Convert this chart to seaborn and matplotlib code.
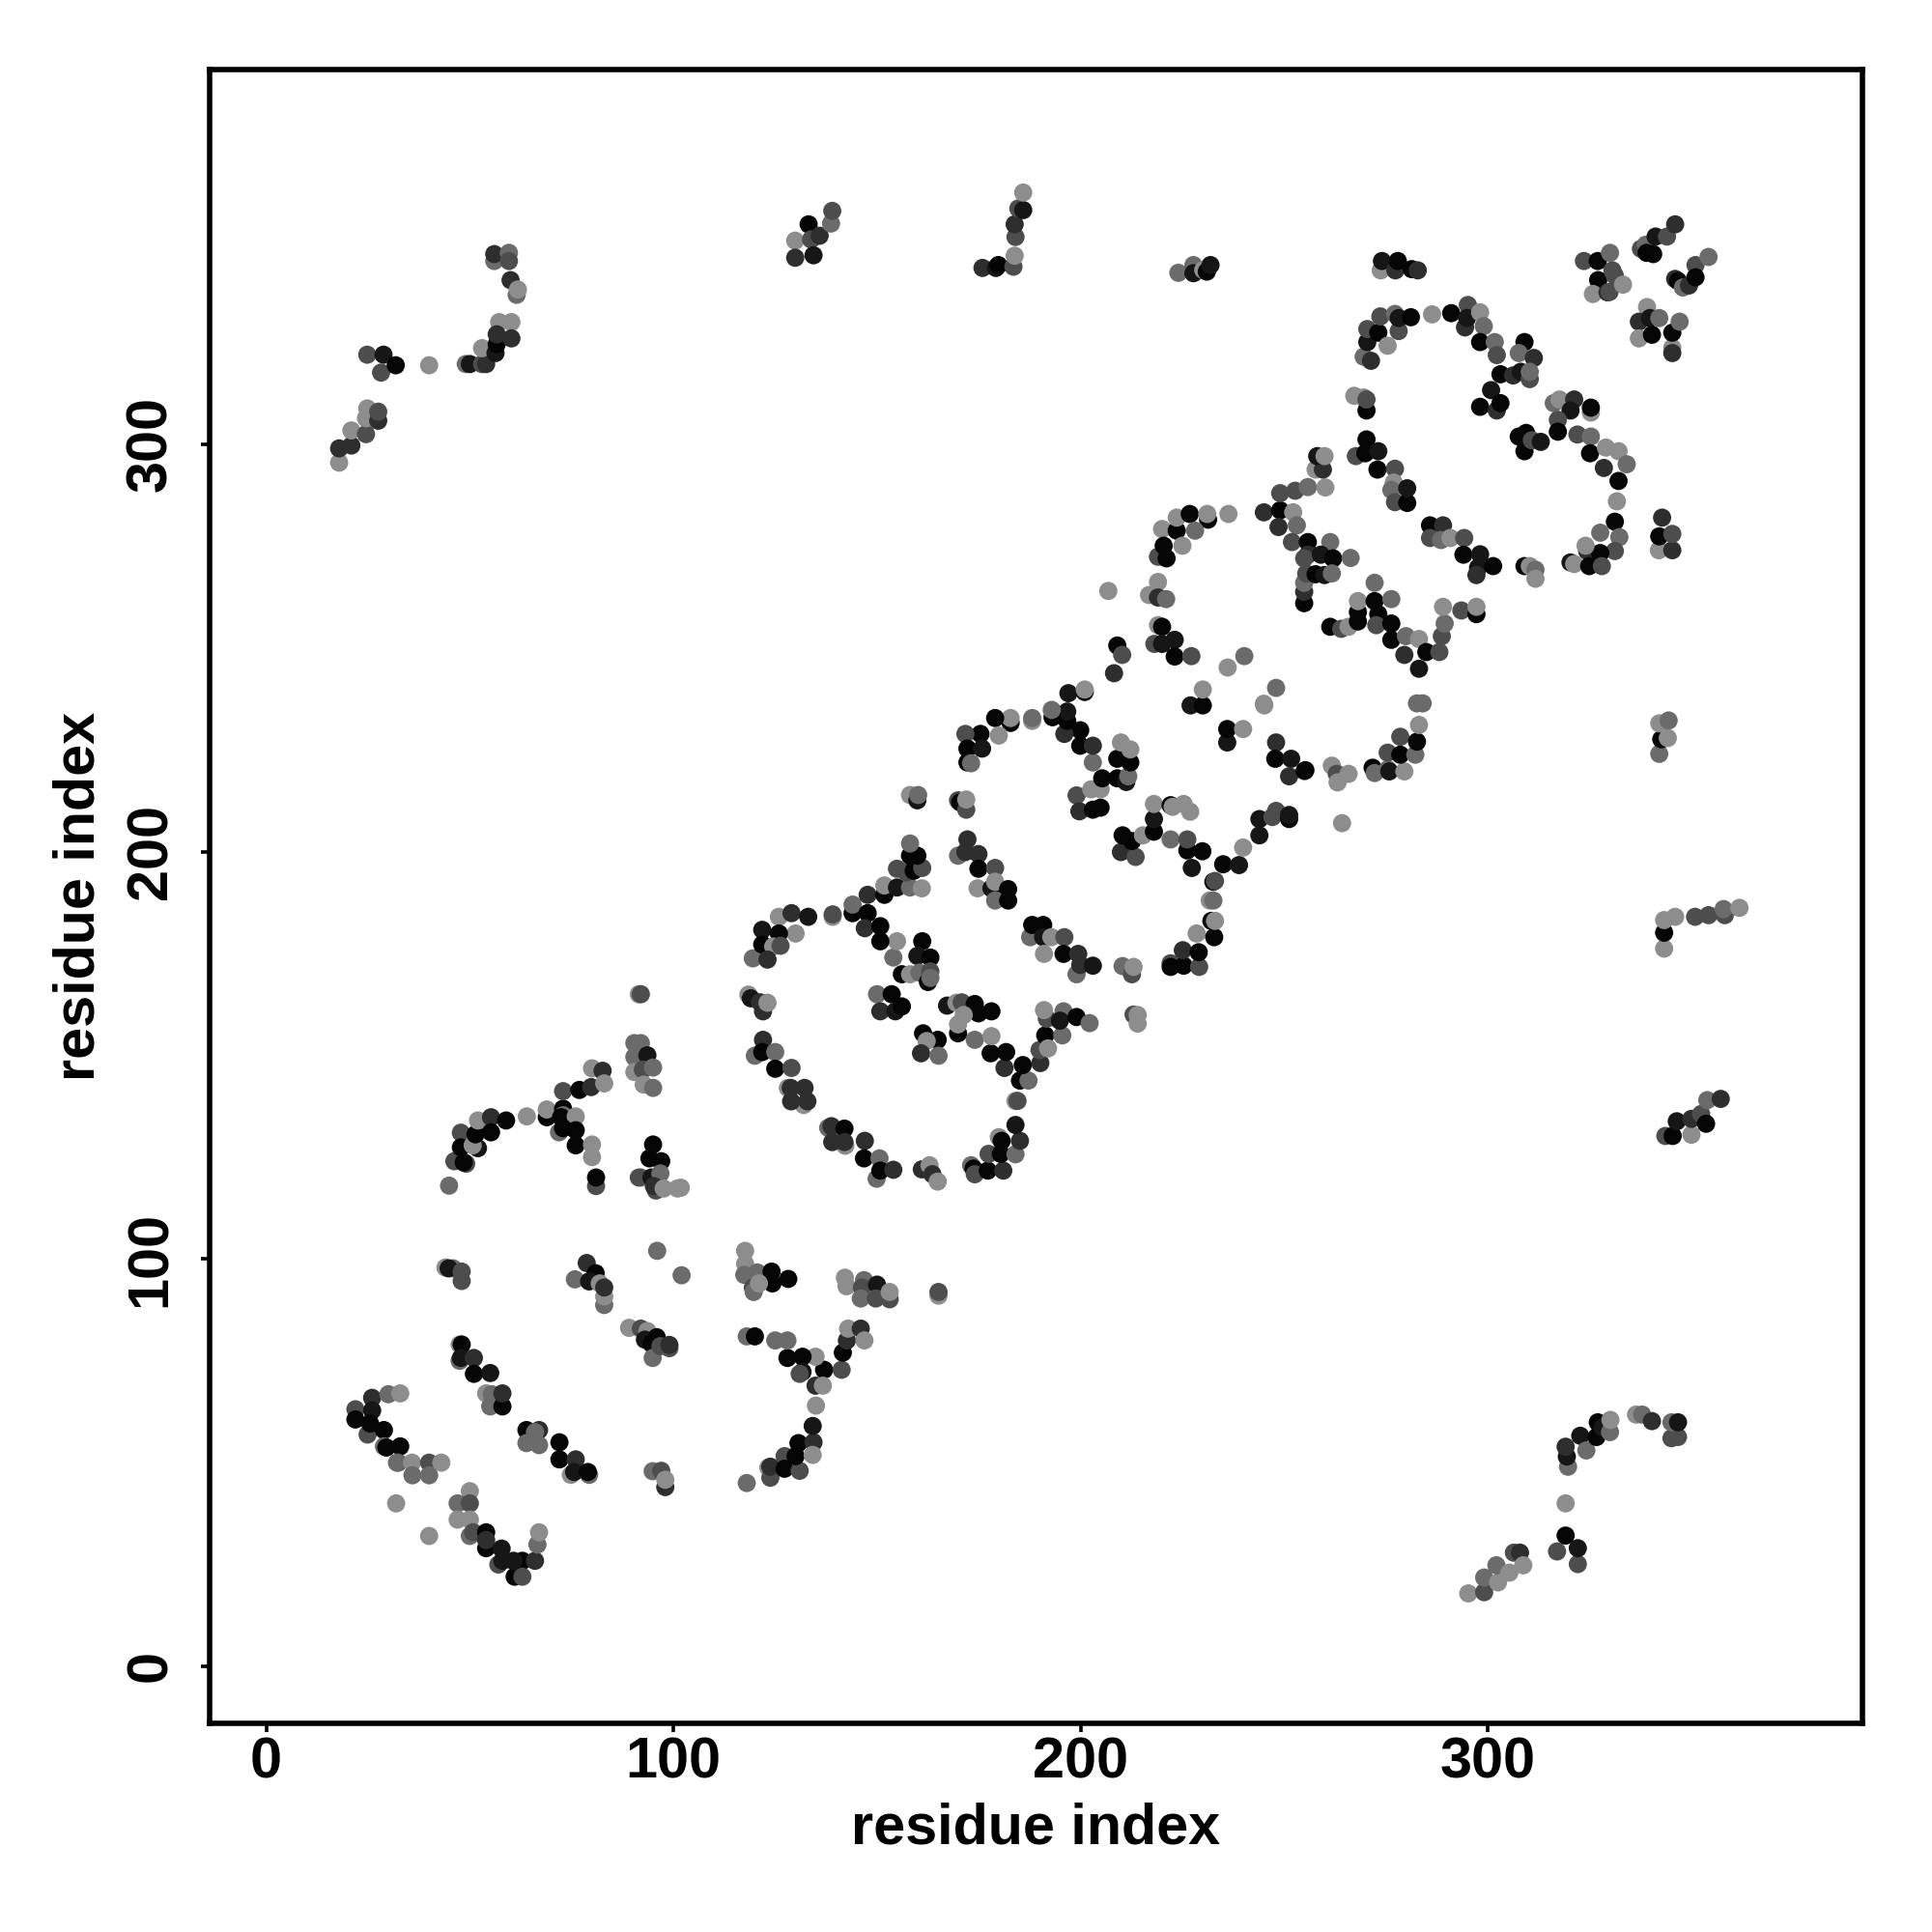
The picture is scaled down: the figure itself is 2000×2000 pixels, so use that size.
import matplotlib
matplotlib.use("Agg")
import matplotlib.pyplot as plt
import pandas as pd
import seaborn as sns

# contacts, as (residue, residue, shade), shade 0 = darkest
lower_left = [(21.9,63.1,3),(21.9,60.6,0),(26,65.9,2),(26,62.8,1),(30,66.8,4),(32.9,67,5),(24.9,56.9,3),(25.5,59.6,0),
    (28.9,58,0),(28.9,54,4),(29.5,53.7,0),(32.9,54,0),(32.4,50,3),(32.1,50,4),(35.8,50,5),(35.9,46.9,4),(40,50,3),
    (40,46.9,4),(43,50,5),(31.9,40,5),(40,32,5),(50,43,5),(47,40,4),(50,40,3),(47,36,5),(50,36,5),(50,32,4),(50.8,32.9,3),
    (54,32.9,0),(54,29,0),(54,31,2),(57,25,3),(57.8,28.9,1),(58,25.9,1),(61,22,0),(62.9,25.9,0),(66,25.9,2),(62.9,22,3),
    (60.7,25.9,1),(66.6,29.9,4),(67,32.9,5)]
lower_diag = [(47.5,79,5),(48,79,0),(47.5,75,4),(47.8,75.7,1),(51,75.7,2),(51,71.8,0),(55,72,1),(54,67,5),(55.4,66.8,4),
    (55,63.8,4),(58,63.8,0),(58,67,2),(63.9,58,0),(67,58,2),(63.9,54.8,4),(67,54.3,4),(66,57.5,4),(72,55,0),(72,50.8,0),
    (76,50.8,2),(74.8,47,5),(75.6,47.7,1),(79.3,47,4),(79,47.7,0),(94.9,47.9,4),(97,48,3),(98,44,2),(98,45.8,5),(118,45,4)]
lower_y = [(123.3,48.8,5),(123.8,46.3,3),(123.8,49,2),(127.3,51.6,3),(127.3,48.5,0),(131,48,3),(130.7,54.8,0),(130,51.6,0),
    (134.4,55,2),(134.2,51.9,5),(134.2,59,1),(135,64,5),(137,72.8,0),(134.9,76,5),(134.9,68.9,2),(136.7,68.9,5),(131.7,76,0),
    (128,75.7,0),(131.7,72.3,1),(131,71.8,3),(125,80,4),(128,80,4),(141.3,72.8,3),(141.6,77,0),(142.6,80,2),(142.9,82.9,5),
    (146,82.9,2),(146.9,80,5),(118,81,4),(120,81,0)]
band_95 = [(117.6,102,5),(117.6,98.8,5),(117.4,96.1,4),(119.5,93,3),(119.7,91.9,4),(120.6,96.7,4),(124.1,96.9,0),(124.3,94,0),
    (128.2,95.1,0),(121,94,5),(142.1,95.4,5),(142.5,93.3,5),(146.8,94.8,4),(146.3,93,3),(146,90.3,4),(150,93.7,1),(149.7,90.3,3),
    (153.1,90.1,3),(153.1,91.9,5),(165.1,91,5),(165.1,91.9,3),(96,102,4),(102,96,4),(44,97.9,5),(45.9,97.7,4),(44.8,97.7,1),
    (48,94.6,3),(48,96.9,3),(75.8,95,4),(78.7,99,2),(80.9,96.5,0),(79.3,94.5,1),(83,88.7,4),(83,90.8,5),(81.9,94,5),(83,93,2),
    (89.1,83.1,5),(92,82.9,3),(93.6,82.3,5),(93,80.2,1),(95.9,80.8,0),(94.6,79.2,0),(94.9,75.7,4),(99,78.1,3),(96.8,78.6,3),(99,78.9,2)]
arc_130 = [(44.9,118,4),(46.2,124,3),(49.1,123.4,3),(48.5,123.7,0),(47.8,131,3),(47.8,127.4,0),(52,127.2,1),(50.7,127.9,5),
    (51.4,130.6,0),(52,134,5),(55.2,134.8,2),(55.2,131.1,0),(58.9,134,0),(64,135,5),(68.9,134.8,0),(68.9,136.7,5),(72.9,136.9,0),
    (72.9,135.3,4),(72.4,134.8,0),(76,135,5),(71.9,131.1,4),(76,131.6,0),(72.9,132.1,0),(76,127.9,0),(80,128.1,5),(80,125,5),
    (81,117.9,3),(81,120,0),(72.9,141.2,3),(76.9,141.5,0),(79.8,142.2,2),(80,146.8,5),(82.6,146.2,2),(83,143.1,5)]
peak_150 = [(90.4,153,4),(92,153,4),(90.4,149.6,4),(90.4,145.9,5),(93.6,150,1),(92.5,146.5,3),(95,147,4),(92.7,142.8,5),(95,142,4),
    (91.5,165,5),(92,165,3),(95,128.1,0),(94.1,124.7,0),(97,124,0),(92,120,4),(91.5,120,3),(94.6,120,1),(96.8,121,4),(95.7,116.8,3),
    (95.2,117.9,2),(97.6,117.3,5),(101,117.3,5),(101.8,117.5,5)]
ring_one_low = [(118.4,164.9,5),(119,164,1),(121.3,163,2),(122,160.8,2),(123.1,162.9,5),(122,153.8,2),(120,149.9,4),(121.8,150.8,0),
    (125,150.8,4),(125,146.7,0),(129,146.9,3),(128.1,142,5),(128.8,142,2),(132,137.8,5),(132.2,142,2),(128.9,138.7,2),(132.9,138.7,2),
    (138,132.2,4),(138.8,132.6,2),(142.2,127.8,5),(142,132,0),(139,128.7,2),(142,128.7,2),(147,129,2),(146.8,124.7,0),(149.9,119.7,4),
    (150.6,124.7,4),(150.8,121.7,0),(154,121.9,2),(161,122,2),(162.9,123,5),(163.6,120.8,2),(164.9,119,5),(173.1,123,4),(173.7,122.2,0),
    (174,120.8,3),(177.2,121.7,0),(181,121.7,2),(177.4,125.8,3),(180.4,125.8,0),(184,125.7,4),(179.9,129.9,5),(180.6,129,0),(185.1,129,2),
    (184,132.9,1),(184,138.8,5),(184.5,138.8,3)]
ring_one_right = [(185.1,143.8,0),(187.2,143.8,4),(181.3,146.9,2),(185.8,147.6,0),(190.1,148.1,2),(181.7,150.8,0),(177.9,150.5,0),
    (174,153.8,4),(178.1,154.7,5),(189.9,151.3,3),(191.3,154.9,0),(192,151.7,5),(195.5,154.9,4),(191.7,159,3),(191,161.1,5),(195.8,160.8,4),
    (194.9,158.5,1),(199,159.4,0),(202.2,157.9,4),(213,160,3),(214,159.9,5),(214,157.8,5),(150,165,4),(153.6,165,0),(150.8,160.8,2),
    (154.5,160.8,1),(156.1,162,0),(167.2,162.2,1),(169.5,162.9,5),(170.8,163,3),(174,162.6,0),(178.1,160.8,0),(174.9,160.3,0),(171.3,159.9,5),
    (169.9,155.4,0),(169.9,157.6,5),(161.3,155.4,0),(164.9,153.8,0),(162.2,153.5,5),(160.8,150.5,2),(165.1,149.9,4)]
ring_one_top = [(161.1,178,0),(159.9,174.4,1),(163.1,174,0),(154,174,4),(154.9,178,5),(156.1,169.9,0),(158.1,169.9,5),(160.4,170.3,4),
    (163.1,170.6,3),(162.5,168,0),(163.1,169,4),(119.5,173.8,4),(121.8,180.8,1),(125.9,184,5),(129,184.9,2),(133.1,184,1),(130,179.9,5),
    (121.8,177.2,0),(125.9,179.9,0),(124.5,176.7,5),(126.3,176.9,3),(123.1,173.5,2),(139.1,184,5),(139.1,184.6,3),(144,184.9,0),(144,187,4),
    (147.7,184.9,0),(147.7,189.4,2),(147,181.2,2),(150.8,181.7,0),(150.8,178,0),(151.8,189.4,0),(151.8,191.7,5),(154.9,191.2,1),(158.1,191.2,4),
    (161,191,5),(157.2,194.9,3),(154.9,195.8,3),(159,195.3,0),(161.1,196,3),(158.1,199,0),(159.9,199,0),(158.1,202,4),(158.1,213.9,5),
    (159.9,212.6,1),(160.1,213.9,4)]
ring_two_low = [(169.9,212.6,3),(170.4,212.1,0),(171.9,210.3,3),(171.9,212.8,5),(172.2,203,2),(169.9,199,4),(171.7,199.9,2),(174.9,199.4,2),
    (174.9,195.8,0),(179,196,3),(174.7,191,5),(178.1,191,1),(179,192.6,5),(182.2,190.8,0),(179,188,4),(182.2,188,0),(187.6,179,4),(188.1,182,0),
    (190.8,182,0),(190.8,179,1),(192.8,179,5),(196,179,3),(191,174.9,5),(195.8,174.9,0),(199.4,174.9,2),(199,169.9,4),(199.9,172.2,2),(203,172,1),
    (210.3,171.9,4),(212.6,169.9,3),(213,171.7,5),(222.1,172.6,3),(222.1,171.7,0),(225.3,172,0),(229.1,171.7,3),(225.1,175.8,2),(229,175.3,0),
    (228.5,179.9,5),(232.8,179,0),(232.1,183,0),(233,183,5),(231.7,188,5),(232.6,188,4),(232.6,192.6,0),(233,192.8,3),(235,196.9,0),(227.3,196,1),
    (226.2,200.3,0),(229.9,200.1,0),(222.1,203,4),(226.2,203,3),(238.9,196.7,1),(239.9,201,5),(243.9,204,1),(243.9,208,1),(247.1,208.5,3),(248,210,3),
    (251.2,208,0),(251.2,209,1)]
ring_two_mid = [(209.9,199.9,2),(213.5,198.7,3),(210.3,204,0),(212.6,202.6,0),(215.3,204,5),(218,204.9,0),(218,208,1),(218,211.7,5),(222.1,211.4,0),
    (222.6,211,5),(225.3,211.7,5),(226.9,209.8,5),(199,213.8,3),(199.7,209.9,2),(203,210.3,0),(204.9,210.8,0),(202.6,215.3,5),(204.9,215.3,5),
    (205.3,218,0),(209,218,0),(211.2,217.1,1),(211.7,218.5,4),(209,222.8,0),(212.2,221.9,0),(209.9,226.8,5),(212.2,225.1,5),(203,221.9,4),(199.9,226,0),
    (203,226,2),(199.9,229.8,0),(196,228.9,2),(196.7,232.1,0),(196.7,234.4,1),(193.1,233,0),(192.9,234.8,4),(188.1,232.1,5),(188.1,232.8,4),
    (182.8,231.6,0),(182.8,232.8,5),(179,232.8,0),(175.4,228.9,0),(179.9,228.5,5),(171.7,228.9,3),(172.2,225.3,0),(175.8,225.3,1),(172.2,221.9,0),
    (173.1,221.7,4),(197,238.9,1),(201,239.2,0),(201,239.8,5)]
inner_240 = [(227,235.9,1),(230,235.9,0),(230,239.8,5),(245.1,235.9,5),(248,240.2,4),(245,236.3,5),(236,226.8,1),(236,230.1,0),(239.9,230.1,5),
    (248,226.8,2),(247.8,222.8,0),(251.7,222.8,1),(251.2,218.5,2),(255,219.8,0),(255.2,220,0),(261.7,221.1,5),(262.9,219.1,3),(263.1,217,5),
    (265.8,219.1,5),(264.2,207,5),(206.8,264,5),(271.7,220.6,0),(272.2,219.3,4),(275.4,220.2,4),(275.4,224.3,3),(275.8,219.7,1),(279.5,219.7,5),
    (278.5,223.8,0),(278.5,228.2,3),(282.2,223.8,4),(282.6,227,0),(283.1,231.1,5),(282.6,236.4,4),(284,236.4,4)]
ring_three_left = [(219,266.2,5),(216.8,263,5),(219,262.4,2),(221,262,4),(219,255.6,5),(220,255.2,0),(218.1,251,3),(220,251,1),(223.1,252,1),
    (223.1,247.9,0),(227.2,248,3),(209,250.6,0),(210.2,248.3,3),(208.2,243.8,2),(240.2,248,4),(236.1,245.2,5),(219,272.4,3),(221.1,272,0),(220,279.2,5),
    (223.6,278.8,0),(223.6,282,5),(226.8,282.9,0),(231.3,281.5,0),(231.1,282.9,5),(236.3,282.9,5),(228.1,278.8,4),(220.4,275.1,0),(225,275.1,5),
    (245,283.3,2),(249,283.8,0),(249,288,3),(252.7,288.6,3),(255.8,289.5,4),(260.1,289.4,5),(248.6,279.7,2),(252.2,283.3,5),(253.1,280.1,4),
    (251.9,276,3),(255.8,276,0),(261.3,276,4),(255.8,272.9,2),(254.9,272,3),(259,272.9,1),(262,272,0),(266.3,272.1,4)]
ring_three_mid = [(254.9,261,0),(254.9,263.8,2),(254.9,266,4),(255.4,268.3,3),(257.7,268.1,0),(259.9,267.9,1),(261.7,268.3,4),(257.7,293.8,5),(259.5,293.8,2),
    (258.1,297.1,1),(259.9,297.1,5),(261.3,255.2,0),(264,254.7,3),(265.8,255.2,5),(268.1,256.5,0),(268.1,258.8,0),(268.1,261.5,5),(272.2,261.5,0),(272.2,266,4),
    (273.1,258.3,0),(272.6,255.6,3),(276.3,262,4),(276.3,256,0),(276.3,252,0),(279.5,248.3,2),(279.9,252.9,4),(283.1,252.2,5),(283.1,244.9,1),(284.9,249,0),
    (288.1,249,3),(288.7,252.9,3),(289.4,256,4),(289,260.1,5),(293.5,259.2,3),(297.2,258.3,0),(297.2,260.1,5),(309,270.1,0),(310.3,270.1,5),(311.7,269.2,4),(311.7,267,5)]
ring_three_in = [(285.8,280.1,0),(289,280.1,2),(285.8,277,3),(288.5,276.5,4),(290.8,277,5),(294.2,277,3),(294,272.9,0),(298.1,273,1),(297.6,269.7,1),(297.2,267.9,2),
    (301.3,270.1,0),(270.2,301.2,0),(267.6,297.1,3),(269.9,297.8,0),(273.1,298.3,1),(272.9,293.8,0),(277.2,294,3),(276.9,290.6,5),(276.3,288.8,4),(277.2,285.8,3),
    (280.2,285.6,0),(280.2,289.2,1),(267.2,311.9,5),(269.5,311.5,5),(270.2,308.3,0),(270.2,311,3)]
ring_top = [(269.5,321.5,4),(271.3,320.5,2),(270.4,325.1,1),(270.4,328.3,3),(273.1,327.4,0),(273.6,331.4,3),(278.1,327.8,3),(275.4,324.2,5),(277.2,332,4),(278.1,331,1),
    (281.1,331.2,0),(286.3,331.9,5),(291,332.2,0),(295.1,334.2,3),(294.4,328.7,2),(294.9,331,1),(298.1,332.4,5),(299,329,4),(298.1,325.1,0),(301.7,325.1,4),(302.2,321.9,3),
    (309,325.1,0),(307.6,322.4,4),(311.3,321.2,2),(303.1,317.2,0),(306.2,316.9,2),(308.1,317.8,1),(310.3,316,3),(310.3,317.8,4),(300.8,313.3,1),(298.1,309.2,0),
    (302.2,308.3,2),(303.1,310.1,0)]
ring_right = [(316.2,310.1,4),(317.6,311,5),(321.2,311,2),(320.3,308.3,1),(325.3,307.8,5),(325.3,309,0),(317.2,306,3),(317.2,303.1,0),(307.6,301.9,0),(309.4,302.8,0),
    (309,298.3,0),(310.8,301,3),(313,300.6,1),(322,302.4,3),(325.3,301.9,4),(325.1,297.8,0),(329,299.2,5),(328.5,294.2,2),(332.1,298.3,5),(334.1,295.1,4),(332.1,291,0),
    (331.7,286,5),(331.2,281,0),(332.3,277.2,4),(327.6,278.3,4),(331.2,273.8,3),(324.4,273.8,2),(327.6,273.3,0),(324,275.1,5),(320.3,271,1),(321.2,270.6,5),(324.9,270.1,0),
    (328,270.1,3),(342,274,5),(345.3,274,2),(342.1,277.4,0),(345.3,278,3),(342.8,282,2),(342.1,224,4),(342.6,227.6,0),(344.2,227.9,5),(342.1,231.5,5),(344.4,232.2,4)]
top_right = [(323.6,345,3),(327,345,0),(330,347,4),(327.1,340.3,0),(325.8,336.9,5),(329.4,337.3,2),(329.9,337.4,3),(330.6,342.7,3),(331.2,341.4,3),(333.2,339.2,5),
    (339.1,333.7,5),(337.1,330.1,2),(339.8,331,1),(342.1,331,4),(337.1,326,5),(340.3,326.9,0),(345.3,323.7,5),(345.3,322.4,2),(345.3,327.4,0),(347.1,330.1,4),
    (337.6,348,3),(338.8,349,4),(339,347,0),(341.2,351,1),(340.6,346.7,0),(344,351,3),(346,354,2),(346,340.6,2),(346.7,340.1,0),(347.9,338.5,4),(349.4,339,2),
    (351,344,3),(351,341,0),(354.2,346,4)]
top_row = [(273.7,342.7,5),(274,345,1),(277.3,342.7,2),(277.9,345,0),(281.3,343,0),(282.8,342.7,2),(224,342.1,4),(227.7,344,4),(227.7,342,1),(230.1,342.8,5),
    (231,342.4,0),(231.9,344,1),(175.9,343.3,2),(179.2,343.3,1),(179.8,344,0),(183.5,343.6,3),(183.8,346.3,5),(184,350.9,3),(183.8,354,2),(184.7,357.9,3),(185.9,357.5,1),
    (185.9,361.8,5),(129.9,350,5),(129.9,345.8,2),(133.2,354,0),(133.8,350.3,3),(134.4,346.4,1),(135.9,351.2,2),(138.7,354.2,4),(139,357.3,3)]
top_left = [(17.9,295.5,5),(17.9,299,2),(20.9,299.7,2),(20.9,303.4,5),(24.5,302.5,3),(24.5,306.4,5),(24.8,308.8,5),(27.5,305.8,2),(27.5,308,3),(24.8,322,3),(28.8,322,1),
    (28.2,317.6,3),(31.8,319.4,0),(40,319.4,5),(49,319.7,4),(50,319.7,1),(53,319.7,3),(54,319.7,2),(53,323.6,5),(56.3,322.4,1),(56.6,324.6,0),(57.2,330,5),(60.2,330,5),
    (56.6,327,2),(60.2,326,2),(56,345,4),(56,346.7,2),(59.6,347,4),(59.6,345,3),(60,340.3,2),(61.5,336.7,4),(61.8,338,5)]
bottom_right = [(295.2,17.9,5),(299.1,18.2,3),(299.1,21.8,4),(302.5,20.6,5),(302.1,24.8,4),(305.3,23,5),(306.4,27.9,3),(307.9,27.9,2),(308.7,24.8,5),(317,28.2,3),(319.1,32.1,0),
    (319.1,40,5),(322.1,25.1,3),(322.1,29,1),(319.7,49,4),(319.4,51.5,1),(319.1,53.9,2),(322.7,56.6,1),(324.2,53,4),(326.7,56.3,0),(327,59.9,0),(328.2,58.7,1),(330,57.5,4),
    (330.1,60.5,5),(336.4,61.8,5),(337.9,61.8,4),(340.3,60.2,2),(345.1,56,3),(346.7,56.3,3),(345.1,59.9,4),(346.7,59.9,1)]
right_col = [(343.6,130.2,3),(345.4,130.2,0),(346.4,133.8,1),(350,130.5,5),(350,134.4,2),(352.4,135.6,3),(353.6,133.2,0),(353.9,139,4),(357.2,139.3,2),(343.3,176.2,5),
    (343.3,180.1,0),(343.3,183.2,5),(346,184,5),(350.9,184,3),(354.2,184.4,3),(358.2,184.4,3),(357.9,185.9,4),(361.8,186.2,5)]

shade_colors = {0: "#050505", 1: "#161616", 2: "#2e2e2e", 3: "#4d4d4d", 4: "#6b6b6b", 5: "#8d8d8d"}
tick_values = [0, 100, 200, 300]

regions = [lower_left, lower_diag, lower_y, band_95, arc_130, peak_150, ring_one_low, ring_one_right, ring_one_top,
           ring_two_low, ring_two_mid, inner_240, ring_three_left, ring_three_mid, ring_three_in, ring_top, ring_right,
           top_right, top_row, top_left, bottom_right, right_col]
df = pd.DataFrame([p for r in regions for p in r], columns=["x", "y", "shade"])

sns.set_theme(style="white")
plt.rcParams["font.family"] = ["Liberation Sans", "DejaVu Sans"]

fig = plt.figure(figsize=(10, 10), dpi=200)
ax = fig.add_axes([0.1083, 0.1080, 0.8557, 0.8560])
sns.scatterplot(data=df, x="x", y="y", hue="shade", palette=shade_colors, s=46, linewidth=0, legend=False, ax=ax)

ax.set_xlim(-14, 392)
ax.set_ylim(-14, 392)
ax.set_xticks(tick_values)
ax.set_yticks(tick_values)
ax.tick_params(length=3.2, width=1.3, color="black", labelsize=21.4, bottom=True, left=True)
ax.tick_params(axis="x", pad=1.5)
ax.tick_params(axis="y", pad=8.5)
for lab in ax.get_xticklabels() + ax.get_yticklabels():
    lab.set_fontweight("bold")
    lab.set_color("black")
for lab in ax.get_yticklabels():
    lab.set_rotation(90)
    lab.set_va("center")
ax.set_xlabel("residue index", fontsize=21.4, fontweight="bold", color="black", labelpad=5)
ax.set_ylabel("residue index", fontsize=21.4, fontweight="bold", color="black", labelpad=7)
for side in ax.spines.values():
    side.set_linewidth(2)
    side.set_color("black")

fig.savefig("out.png", dpi=200, facecolor="white")
